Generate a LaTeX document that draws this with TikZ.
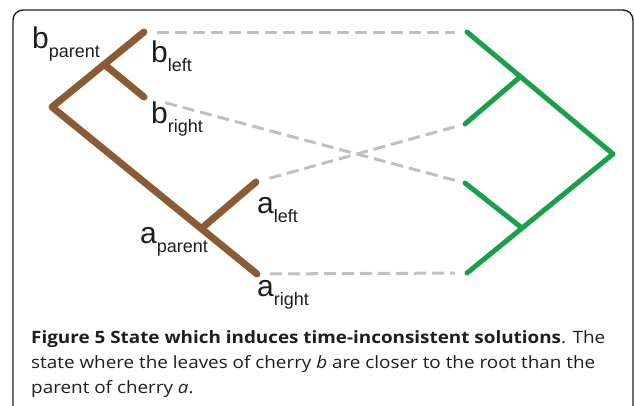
\documentclass[tikz,border=0pt]{standalone}
\usepackage{fontspec}
\setmainfont{Open Sans}
\newfontfamily\labfont{Liberation Sans}
\definecolor{brownc}{RGB}{139,92,52}
\definecolor{greenc}{RGB}{26,160,74}
\definecolor{dashc}{RGB}{192,192,194}
\definecolor{txtc}{RGB}{30,30,30}
\newcommand{\lbl}[2]{{\fontsize{30}{30}\selectfont #1}{\fontsize{18}{18}\selectfont\raisebox{-9pt}{#2}}}
\begin{document}
\begin{tikzpicture}[x=1pt,y=-1pt,
  brownbr/.style={draw=brownc,line width=7pt,line cap=round,line join=round},
  greenbr/.style={draw=greenc,line width=5pt,line cap=round,line join=round},
  dashline/.style={draw=dashc,line width=3pt,dash pattern=on 12pt off 6pt},
  labnode/.style={anchor=base west,inner sep=0pt,text=txtc,font=\labfont},
  frame/.style={draw=txtc,line width=1.4pt,rounded corners=10pt}]
\useasboundingbox (0,0) rectangle (634,405);
\clip (0,0) rectangle (634,405);
\draw[frame] (13,10) rectangle (633,430);
% brown tree
\coordinate (broot) at (52,107);
\coordinate (bpar) at (105,65);
\coordinate (bleft) at (144,32);
\coordinate (bright) at (144,97);
\coordinate (apar) at (202,228);
\coordinate (aleft) at (256,182);
\coordinate (aright) at (257,274);
\draw[brownbr] (bleft) -- (broot) -- (aright);
\draw[brownbr] (bpar) -- (bright);
\draw[brownbr] (apar) -- (aleft);
% green tree
\coordinate (gtop) at (467,32);
\coordinate (gj1) at (520,77);
\coordinate (gm1) at (465,124);
\coordinate (groot) at (613,154);
\coordinate (gm2) at (465,183);
\coordinate (gj2) at (522,228);
\coordinate (gbot) at (467,273);
\draw[greenbr] (gtop) -- (groot) -- (gbot);
\draw[greenbr] (gj1) -- (gm1);
\draw[greenbr] (gj2) -- (gm2);
% dashed links
\draw[dashline,shorten <=13pt,shorten >=12pt] (bleft) -- (gtop);
\draw[dashline,shorten <=22pt,shorten >=10pt] (bright) -- (gm2);
\draw[dashline,shorten <=14pt,shorten >=10pt] (aleft) -- (gm1);
\draw[dashline,shorten <=13pt,shorten >=12pt] (aright) -- (gbot);
% labels
\node[labnode] (lbp) at (32,48) {\lbl{b}{parent}};
\node[labnode] (lbl) at (151,62) {\lbl{b}{left}};
\node[labnode] (lbr) at (151,123) {\lbl{b}{right}};
\node[labnode] (lal) at (257,213) {\lbl{a}{left}};
\node[labnode] (lap) at (140,243) {\lbl{a}{parent}};
\node[labnode] (lar) at (257,296) {\lbl{a}{right}};
% caption
\node[anchor=base west,inner sep=0pt,align=left,text=txtc,xscale=1.11,font=\fontsize{17}{25}\selectfont] (cap) at (31,393)
 {\textbf{Figure 5 State which induces time-inconsistent solutions}. The\\
  state where the leaves of cherry \textit{b} are closer to the root than the\\
  parent of cherry \textit{a}.};
\end{tikzpicture}
\end{document}
